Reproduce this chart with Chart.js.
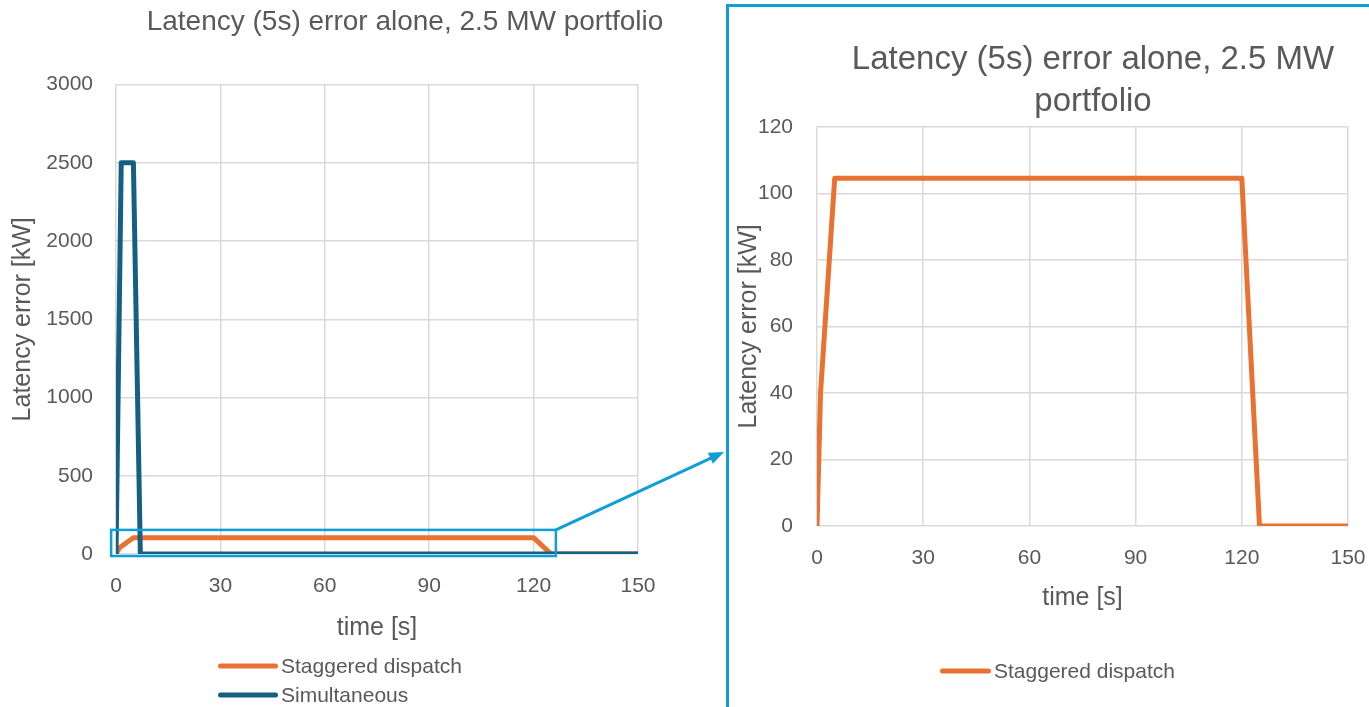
<!DOCTYPE html>
<html>
<head>
<meta charset="utf-8">
<title>Latency (5s) error alone, 2.5 MW portfolio</title>
<script src="https://cdn.jsdelivr.net/npm/chart.js@4.4.1/dist/chart.umd.min.js"></script>
<style>
  html, body { margin: 0; padding: 0; background: #fff; overflow: hidden; }
  body { width: 1369px; height: 707px; position: relative; }
  #overview { position: absolute; left: 0; top: 0; }
  #zoomPanel { position: absolute; left: 726px; top: 4px; width: 720px; height: 760px; border: 3px solid #0F9ED5; }
  #detail { position: absolute; left: 730px; top: 7px; }
</style>
</head>
<body>
<canvas id="overview" width="810" height="707"></canvas>
<div id="zoomPanel"></div>
<canvas id="detail" width="726" height="700"></canvas>
<script>
// time in seconds, error in kW
const staggeredTime = [0, 1, 5, 120, 125, 150];
const staggeredKW = [0, 40, 104.5, 104.5, 0, 0];
const simultaneousTime = [0, 1.5, 5, 7, 150];
const simultaneousKW = [0, 2500, 2500, 0, 0];

const timeTicks = [0, 30, 60, 90, 120, 150];
const overviewTicks = [0, 500, 1000, 1500, 2000, 2500, 3000];
const detailTicks = [0, 20, 40, 60, 80, 100, 120];

const chartTitle = 'Latency (5s) error alone, 2.5 MW portfolio';
const ORANGE = '#E97132';
const NAVY = '#156082';
const CYAN = '#0F9ED5';
const TEXT = '#595959';
const GRID = '#D9D9D9';
const FONT = '"Liberation Sans", Arial, sans-serif';

const toPoints = (xs, ys) => xs.map((x, i) => ({ x: x, y: ys[i] }));

// legend drawn as stacked rows, one per dataset
const lineLegend = {
  id: 'lineLegend',
  afterDraw(chart, args, opts) {
    const ctx = chart.ctx;
    ctx.save();
    ctx.font = '21px ' + FONT;
    ctx.textBaseline = 'middle';
    ctx.textAlign = 'left';
    chart.data.datasets.forEach((ds, i) => {
      const y = opts.top + i * opts.rowGap;
      ctx.strokeStyle = ds.borderColor;
      ctx.lineWidth = 5;
      ctx.lineCap = 'round';
      ctx.beginPath();
      ctx.moveTo(opts.left + 2.5, y);
      ctx.lineTo(opts.left + opts.lineLength - 2.5, y);
      ctx.stroke();
      ctx.fillStyle = TEXT;
      ctx.fillText(ds.label, opts.left + opts.lineLength + 3, y + 1);
    });
    ctx.restore();
  }
};

// outline round the low part of the overview plus a pointer to the detail panel
const zoomCallout = {
  id: 'zoomCallout',
  afterDraw(chart, args, opts) {
    const { ctx, scales: { x, y } } = chart;
    const x0 = x.getPixelForValue(opts.xMin);
    const x1 = x.getPixelForValue(opts.xMax);
    const y0 = y.getPixelForValue(opts.yMax);
    const y1 = y.getPixelForValue(opts.yMin);
    ctx.save();
    ctx.strokeStyle = CYAN;
    ctx.fillStyle = CYAN;
    ctx.lineWidth = 2.5;
    ctx.strokeRect(x0, y0, x1 - x0, y1 - y0);

    const tx = opts.target.x, ty = opts.target.y;
    const ang = Math.atan2(ty - y0, tx - x1);
    const head = 15;
    ctx.lineWidth = 3;
    ctx.beginPath();
    ctx.moveTo(x1, y0);
    ctx.lineTo(tx - Math.cos(ang) * head * 0.8, ty - Math.sin(ang) * head * 0.8);
    ctx.stroke();
    ctx.beginPath();
    ctx.moveTo(tx, ty);
    ctx.lineTo(tx - head * Math.cos(ang) + 6 * Math.sin(ang), ty - head * Math.sin(ang) - 6 * Math.cos(ang));
    ctx.lineTo(tx - head * Math.cos(ang) - 6 * Math.sin(ang), ty - head * Math.sin(ang) + 6 * Math.cos(ang));
    ctx.closePath();
    ctx.fill();
    ctx.restore();
  }
};

// yWidth / spareRight fix the plot edges, xHeight places the time title
function axes(yTicks, yWidth, spareRight, xHeight, yTitlePad, yTickPad) {
  const tickFont = { family: FONT, size: 21 };
  const titleFont = { family: FONT, size: 25 };
  return {
    x: {
      type: 'linear',
      min: timeTicks[0],
      max: timeTicks[timeTicks.length - 1],
      afterBuildTicks: s => { s.ticks = timeTicks.map(v => ({ value: v })); },
      afterFit: s => { s.height = xHeight; },
      ticks: { color: TEXT, font: tickFont, padding: 20, maxRotation: 0, callback: v => String(v) },
      grid: { color: GRID, lineWidth: 1.5, drawTicks: false },
      border: { display: false },
      title: { display: true, text: 'time [s]', color: TEXT, font: titleFont, padding: 0 }
    },
    y: {
      min: yTicks[0],
      max: yTicks[yTicks.length - 1],
      afterBuildTicks: s => { s.ticks = yTicks.map(v => ({ value: v })); },
      afterFit: s => { s.width = yWidth; },
      ticks: { color: TEXT, font: tickFont, padding: yTickPad, callback: v => String(v) },
      grid: { color: GRID, lineWidth: 1.5, drawTicks: false },
      border: { display: false },
      title: { display: true, text: 'Latency error [kW]', color: TEXT, font: titleFont, padding: { top: yTitlePad, bottom: 0 } }
    },
    // empty right-hand margin so the title stays centred on the whole canvas
    spare: {
      position: 'right',
      afterFit: s => { s.width = spareRight; },
      ticks: { display: false },
      grid: { display: false },
      border: { display: false }
    }
  };
}

const lineStyle = { borderWidth: 5, pointRadius: 0, borderJoinStyle: 'round', fill: false, tension: 0 };

new Chart(document.getElementById('overview'), {
  type: 'line',
  data: {
    datasets: [
      Object.assign({ label: 'Staggered dispatch', data: toPoints(staggeredTime, staggeredKW), borderColor: ORANGE, backgroundColor: ORANGE, order: 1 }, lineStyle),
      Object.assign({ label: 'Simultaneous', data: toPoints(simultaneousTime, simultaneousKW), borderColor: NAVY, backgroundColor: NAVY, order: 0 }, lineStyle)
    ]
  },
  options: {
    responsive: false,
    animation: false,
    layout: { padding: { left: 0, right: 0, top: 0, bottom: 64 } },
    scales: axes(overviewTicks, 116, 172, 89, 8, 23),
    plugins: {
      legend: { display: false },
      tooltip: { enabled: false },
      title: { display: true, text: chartTitle, color: TEXT, font: { family: FONT, size: 28, weight: 'normal', lineHeight: 1.2 }, padding: { top: 5, bottom: 46 } },
      lineLegend: { left: 218, top: 666, rowGap: 29, lineLength: 60 },
      zoomCallout: { xMin: -1.4, xMax: 126.4, yMin: -13, yMax: 154, target: { x: 724, y: 452 } }
    }
  },
  plugins: [lineLegend, zoomCallout]
});

new Chart(document.getElementById('detail'), {
  type: 'line',
  data: {
    datasets: [
      Object.assign({ label: 'Staggered dispatch', data: toPoints(staggeredTime, staggeredKW), borderColor: ORANGE, backgroundColor: ORANGE }, lineStyle)
    ]
  },
  options: {
    responsive: false,
    animation: false,
    layout: { padding: { left: 0, right: 0, top: 0, bottom: 94 } },
    scales: axes(detailTicks, 87, 108, 87, 4, 24),
    plugins: {
      legend: { display: false },
      tooltip: { enabled: false },
      title: { display: true, text: ['Latency (5s) error alone, 2.5 MW', 'portfolio'], color: TEXT, font: { family: FONT, size: 33, weight: 'normal', lineHeight: 1.3 }, padding: { top: 31, bottom: 3 } },
      lineLegend: { left: 210, top: 664, rowGap: 29, lineLength: 51 }
    }
  },
  plugins: [lineLegend]
});
</script>
</body>
</html>
